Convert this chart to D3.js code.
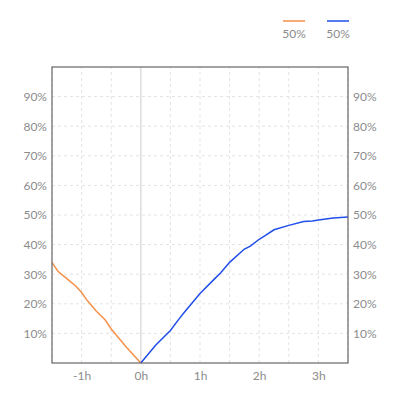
<!DOCTYPE html>
<html><head><meta charset="utf-8">
<script src="https://cdn.jsdelivr.net/npm/d3@7"></script>
<style>body{margin:0;background:#fff}text{font-family:Lato,"Open Sans",sans-serif}</style>
</head><body><svg id="c"></svg>
<script>
const beforeX = [-1.5, -1.45, -1.4, -1.25, -1.1, -1.0, -0.9, -0.75, -0.6, -0.5, -0.25, 0];
const beforeY = [34, 32.5, 31, 28.5, 26, 23.8, 21, 17.5, 14.5, 11.5, 5.5, 0];
const afterX = [0, 0.25, 0.5, 0.65, 0.75, 1, 1.25, 1.35, 1.5, 1.75, 1.85, 2, 2.1, 2.25, 2.5, 2.75, 2.9, 3, 3.25, 3.5];
const afterY = [0, 6, 11, 15, 17.5, 23.5, 28.5, 30.5, 34, 38.5, 39.5, 41.8, 43, 45, 46.5, 47.8, 48, 48.3, 49, 49.3];
const xTicks = [-1, 0, 1, 2, 3];
const yTicks = [10, 20, 30, 40, 50, 60, 70, 80, 90];
const legend = [{label: '50%', color: '#f5914a'}, {label: '50%', color: '#1f4ee8'}];

const W = 400, H = 400, m = {top: 67, right: 52, bottom: 37, left: 52};
const svg = d3.select('#c').attr('width', W).attr('height', H);
const x = d3.scaleLinear().domain([-1.5, 3.5]).range([m.left, W - m.right]);
const y = d3.scaleLinear().domain([0, 100]).range([H - m.bottom, m.top]);

const grid = svg.append('g');
d3.range(-1.5, 3.51, 0.5).forEach(v => {
  grid.append('line').attr('x1', x(v)).attr('x2', x(v)).attr('y1', y(0)).attr('y2', y(100))
    .attr('stroke', v === 0 ? '#ddd' : '#e3e3e3').attr('stroke-width', v === 0 ? 1.5 : 1)
    .attr('stroke-dasharray', v === 0 ? null : '3,3');
});
yTicks.forEach(v => {
  grid.append('line').attr('x1', x(-1.5)).attr('x2', x(3.5)).attr('y1', y(v)).attr('y2', y(v))
    .attr('stroke', '#e3e3e3').attr('stroke-dasharray', '3,3');
});

const fmt = d => d + '%';
const styleAxis = g => { g.select('.domain').remove(); g.selectAll('line').remove();
  g.selectAll('text').attr('fill', '#8c8c8c').attr('font-size', 12); };
svg.append('g').attr('transform', `translate(${m.left - 2},0)`)
  .call(d3.axisLeft(y).tickValues(yTicks).tickFormat(fmt).tickSize(0)).call(styleAxis);
svg.append('g').attr('transform', `translate(${W - m.right + 2},0)`)
  .call(d3.axisRight(y).tickValues(yTicks).tickFormat(fmt).tickSize(0)).call(styleAxis);
svg.append('g').attr('transform', `translate(0,${H - m.bottom + 5})`)
  .call(d3.axisBottom(x).tickValues(xTicks).tickFormat(d => d + 'h').tickSize(0)).call(styleAxis);

const line = d3.line().x(d => x(d[0])).y(d => y(d[1]));
svg.append('path').datum(d3.zip(beforeX, beforeY)).attr('d', line)
  .attr('fill', 'none').attr('stroke', legend[0].color).attr('stroke-width', 1.5);
svg.append('path').datum(d3.zip(afterX, afterY)).attr('d', line)
  .attr('fill', 'none').attr('stroke', legend[1].color).attr('stroke-width', 1.5);

svg.append('rect').attr('x', m.left).attr('y', m.top).attr('width', W - m.left - m.right)
  .attr('height', H - m.top - m.bottom).attr('fill', 'none').attr('stroke', '#666').attr('stroke-width', 1.2);

legend.forEach((l, i) => {
  const cx = 294 + i * 44;
  svg.append('line').attr('x1', cx - 11).attr('x2', cx + 11).attr('y1', 21).attr('y2', 21)
    .attr('stroke', l.color).attr('stroke-width', 1.5);
  svg.append('text').attr('x', cx).attr('y', 38).attr('text-anchor', 'middle')
    .attr('fill', '#8c8c8c').attr('font-size', 12).text(l.label);
});
</script></body></html>
